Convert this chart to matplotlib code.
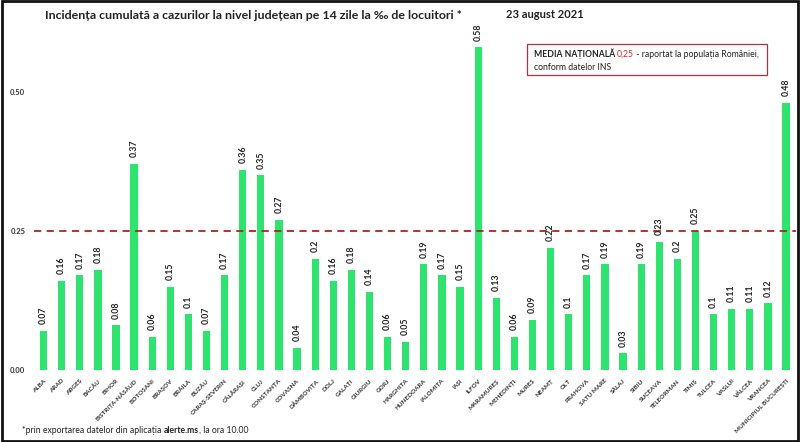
import matplotlib.pyplot as plt
from matplotlib.patches import Rectangle

plt.rcParams["font.family"] = ["Lato", "DejaVu Sans"]

# Date
judete = [
    "ALBA", "ARAD", "ARGEȘ", "BACĂU", "BIHOR", "BISTRIȚA-NĂSĂUD", "BOTOȘANI",
    "BRAȘOV", "BRĂILA", "BUZĂU", "CARAȘ-SEVERIN", "CĂLĂRAȘI", "CLUJ",
    "CONSTANȚA", "COVASNA", "DÂMBOVIȚA", "DOLJ", "GALAȚI", "GIURGIU", "GORJ",
    "HARGHITA", "HUNEDOARA", "IALOMIȚA", "IAȘI", "ILFOV", "MARAMUREȘ",
    "MEHEDINȚI", "MUREȘ", "NEAMȚ", "OLT", "PRAHOVA", "SATU MARE", "SĂLAJ",
    "SIBIU", "SUCEAVA", "TELEORMAN", "TIMIȘ", "TULCEA", "VASLUI", "VÂLCEA",
    "VRANCEA", "MUNICIPIUL BUCUREȘTI",
]
incidenta = [
    0.07, 0.16, 0.17, 0.18, 0.08, 0.37, 0.06, 0.15, 0.1, 0.07, 0.17, 0.36,
    0.35, 0.27, 0.04, 0.2, 0.16, 0.18, 0.14, 0.06, 0.05, 0.19, 0.17, 0.15,
    0.58, 0.13, 0.06, 0.09, 0.22, 0.1, 0.17, 0.19, 0.03, 0.19, 0.23, 0.2,
    0.25, 0.1, 0.11, 0.11, 0.12, 0.48,
]
etichete = [f"{v:g}" for v in incidenta]
media_nationala = 0.25
y_ticks = [0.0, 0.25, 0.5]

fig = plt.figure(figsize=(8, 4.42), dpi=100)
ax = fig.add_axes([0.042, 0.163, 0.953, 0.755])

x = list(range(len(judete)))
ax.bar(x, incidenta, width=0.4, color="#2FE36F", zorder=2)
ax.axhline(media_nationala, color="#B22222", linestyle=(0, (4, 3)), linewidth=1.3, zorder=3)

# Valori deasupra barelor
for xi, v, t in zip(x, incidenta, etichete):
    ax.text(xi, v + 0.012, t, rotation=90, ha="center", va="bottom",
            fontsize=6.3, fontweight="bold", color="#222222", clip_on=False)

ax.set_xlim(-0.55, len(judete) - 0.45)
ax.set_ylim(0, 0.6)
ax.set_yticks(y_ticks)
ax.set_yticklabels([f"{t:.2f}" for t in y_ticks], fontsize=5.5, fontweight="bold", color="#333333")
ax.set_xticks(x)
ax.set_xticklabels(judete, rotation=45, ha="right", rotation_mode="anchor",
                   fontsize=4.6, fontweight="bold", color="#333333")
ax.tick_params(axis="both", length=0, pad=6)
for s in ax.spines.values():
    s.set_visible(False)

# Titlu
fig.text(0.056, 0.965, "Incidența cumulată a cazurilor la nivel județean pe 14 zile la ‰ de locuitori *",
         fontsize=8.9, fontweight="bold", color="#222222", va="center")
fig.text(0.632, 0.967, "23 august 2021", fontsize=8, fontweight="bold", color="#222222", va="center")

# Caseta media nationala
fig.patches.append(Rectangle((0.659, 0.830), 0.3, 0.070, transform=fig.transFigure,
                             fill=False, edgecolor="#B03040", linewidth=0.9))
t1 = fig.text(0.667, 0.878, "MEDIA NAȚIONALĂ ", fontsize=6.2, fontweight="bold",
              color="#222222", va="center")
t2 = ax.annotate("0,25", xy=(1, 0), xycoords=t1, fontsize=6.2, color="#E02020", va="bottom")
ax.annotate(" - raportat la populația României,", xy=(1, 0), xycoords=t2,
            fontsize=6.2, color="#222222", va="bottom")
fig.text(0.667, 0.848, "conform datelor INS", fontsize=6.2, color="#222222", va="center")

# Nota de subsol
n1 = fig.text(0.028, 0.027, "*prin exportarea datelor din aplicația ", fontsize=6.2,
              color="#222222", va="center")
n2 = ax.annotate("alerte.ms", xy=(1, 0), xycoords=n1, fontsize=6.2, fontweight="bold",
                 color="#222222", va="bottom")
ax.annotate(", la ora 10.00", xy=(1, 0), xycoords=n2, fontsize=6.2, color="#222222", va="bottom")

# Chenar
fig.patches.append(Rectangle((0.002, 0.003), 0.996, 0.994, transform=fig.transFigure,
                             fill=False, edgecolor="#111111", linewidth=2))

fig.savefig("out.png", dpi=100)
